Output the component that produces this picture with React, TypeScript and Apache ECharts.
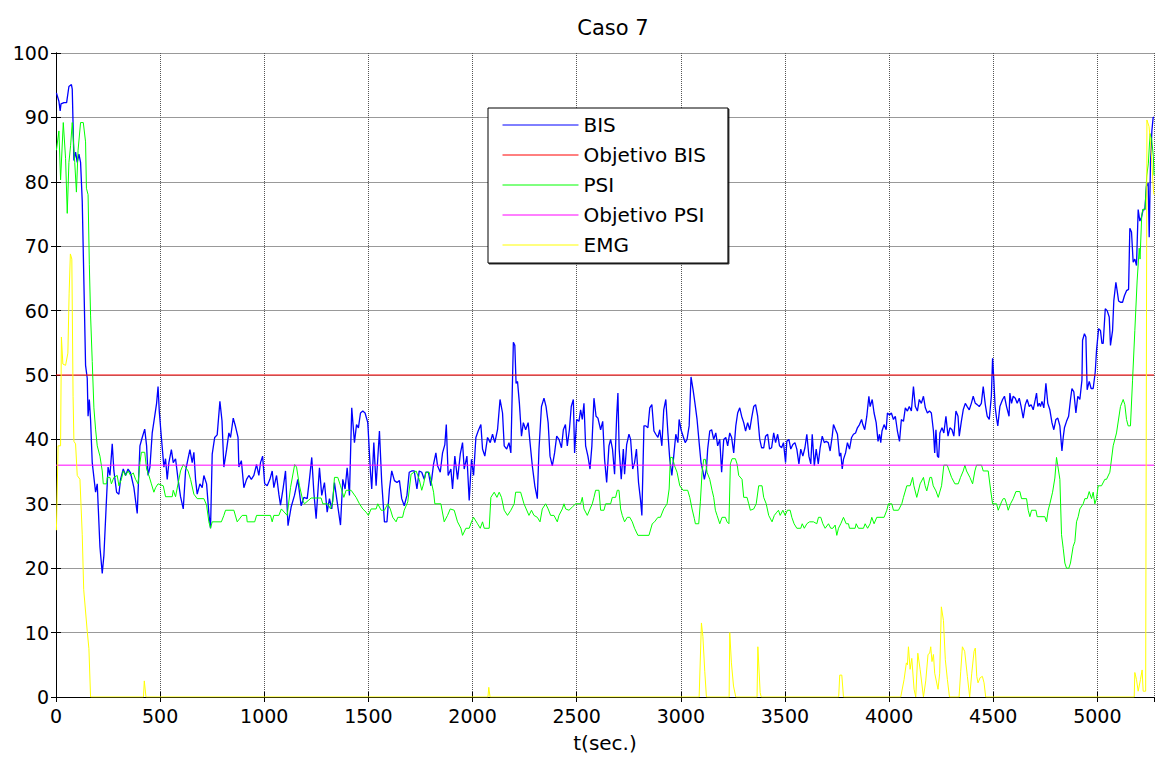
import React, { useEffect, useRef } from "react";
import * as echarts from "echarts";

const T_MAX = 5272;
const X_TICKS_INTERVAL = 500;
const Y_TICKS_INTERVAL = 10;
const TITLE = "Caso 7";
const X_NAME = "t(sec.)";
const SERIES_NAMES = ["BIS", "Objetivo BIS", "PSI", "Objetivo PSI", "EMG"];
const TARGET_BIS = 50;
const TARGET_PSI = 36;

const bisData: number[][] = [
  [2,93.8],[14,92.5],[20,91],[24,92.1],[38,92.3],[51,92.3],[62,94.8],[74,95.1],[78,94.4],[86,83.3],[94,84.6],[102,83],[110,84.3],[118,83],[126,77],[142,51.5],[150,49.5],[154,43.6],[160,46.2],[166,43],[174,36.4],[190,31.8],[198,33.1],[211,23.3],[222,19.2],[230,22],[243,31.1],[250,35.7],[259,34.4],[270,39.3],[278,35.1],[291,31.8],[302,31.5],[310,33.8],[323,35.4],[334,34.4],[346,35.4],[358,34.8],[374,32.5],[390,28.5],[403,39],[414,40.3],[426,41.6],[435,39],[442,34.4],[451,35.7],[462,41],[474,43.6],[483,45.6],[490,48.2],[496,44.3],[506,40.3],[518,35.7],[526,37],[534,33.8],[542,36.4],[554,38.4],[563,36.4],[574,37],[586,33.8],[598,31.1],[611,29.2],[622,35.1],[634,37],[643,38.4],[654,36.4],[662,38],[670,33.8],[678,31.5],[691,33.1],[702,32.5],[710,34.4],[723,33.1],[734,28.5],[742,26.2],[750,37.7],[762,40.3],[774,40.7],[787,45.9],[797,42.9],[806,35.7],[819,38.4],[830,41],[838,40.3],[851,43.3],[862,42],[874,40.3],[878,35.7],[890,36.7],[902,32.5],[915,33.8],[926,34.4],[938,33.8],[950,34.4],[963,36.1],[974,34.4],[982,36.4],[992,37.4],[1002,33.1],[1014,32.8],[1027,33.8],[1038,35.1],[1046,32.5],[1059,34.4],[1070,31.5],[1078,29.8],[1091,32.5],[1102,35.1],[1114,26.6],[1129,29.5],[1145,31.3],[1161,33.8],[1177,29.7],[1190,31],[1206,30.8],[1217,33.8],[1228,37.2],[1238,31.8],[1249,27.7],[1265,35.6],[1276,31.3],[1289,33.3],[1302,28.7],[1313,30.8],[1324,29.2],[1337,33.3],[1350,30.3],[1366,26.7],[1377,33.8],[1388,32.3],[1398,35.6],[1409,31.3],[1420,44.9],[1433,39.5],[1443,42.3],[1452,41.8],[1462,44.1],[1473,44.4],[1484,44.1],[1497,42.6],[1510,34.9],[1516,32.3],[1526,39.5],[1537,32.8],[1553,41.3],[1564,33.3],[1577,27.2],[1589,27.2],[1601,32.3],[1612,35.1],[1625,33.6],[1637,33.3],[1649,33.6],[1660,30.8],[1672,29.7],[1685,31.3],[1696,34.9],[1708,35.1],[1720,35.1],[1733,32.3],[1744,35.1],[1756,34.9],[1768,33.8],[1776,34.9],[1788,34.9],[1800,32.8],[1813,36.2],[1824,37.9],[1832,35.9],[1845,34.9],[1856,37.9],[1867,39.2],[1874,42.3],[1883,34.4],[1896,35.4],[1904,32.3],[1915,37.4],[1928,33.8],[1941,37.7],[1952,39.5],[1960,35.4],[1973,37.4],[1984,30.5],[1995,36.9],[2005,34.4],[2016,40.3],[2027,41.3],[2040,42.3],[2048,38.5],[2059,37.4],[2072,40.3],[2085,39.5],[2096,40.8],[2107,39.5],[2120,41.5],[2132,46.2],[2144,44.1],[2152,39],[2164,38.5],[2175,39.5],[2184,37.9],[2196,55.1],[2203,54.6],[2209,48.7],[2216,49],[2225,45.6],[2235,40.5],[2244,42.6],[2255,41.5],[2267,42.6],[2276,39.5],[2287,35.9],[2299,32.8],[2311,30.8],[2319,38.5],[2331,45.1],[2343,46.4],[2353,45.1],[2363,42.6],[2372,37.4],[2383,35.9],[2394,37.9],[2404,40.5],[2415,40],[2427,38.7],[2436,41.5],[2446,42.3],[2455,39],[2465,41.5],[2474,45.1],[2484,46.2],[2490,37.9],[2500,43.1],[2511,42.8],[2519,44.6],[2527,43.1],[2535,45.6],[2543,39],[2554,37.4],[2564,35.4],[2573,39],[2583,46.4],[2593,43.6],[2602,43.3],[2615,41.5],[2625,42.8],[2634,36.9],[2644,33.3],[2655,39],[2663,40],[2672,38.5],[2682,34.6],[2692,43.6],[2698,47.2],[2704,38.5],[2714,33.8],[2724,38.5],[2730,34.6],[2740,39.2],[2751,40.8],[2759,40],[2769,35.4],[2778,36.4],[2787,38.5],[2797,33.3],[2807,30.5],[2813,28.2],[2823,42.1],[2832,42.1],[2842,41.8],[2851,44.9],[2861,45.4],[2871,41.3],[2880,40.8],[2890,40.3],[2899,41.5],[2909,39],[2918,44.6],[2928,46.2],[2938,41],[2947,36.9],[2957,34.4],[2966,37.4],[2976,40.8],[2986,39.5],[2992,43.1],[3001,41.5],[3011,40.5],[3021,39.5],[3030,40],[3040,42.1],[3049,49.7],[3059,47.7],[3068,45.6],[3078,43.1],[3088,39.5],[3097,36.4],[3107,34.9],[3113,33.8],[3123,35.4],[3129,38.5],[3139,41.3],[3148,41.5],[3158,40],[3168,41],[3177,39],[3187,40],[3196,34.9],[3206,40],[3216,40.3],[3225,39],[3235,41],[3244,40.3],[3254,37.9],[3264,42.1],[3273,44.1],[3283,44.9],[3292,43.6],[3302,42.6],[3311,41.3],[3321,42.6],[3331,41.5],[3340,43.3],[3350,45.1],[3359,45.4],[3369,43.6],[3379,40],[3388,38.7],[3398,38.7],[3407,40.5],[3417,40.8],[3426,38.5],[3436,38.7],[3446,41],[3455,39.5],[3465,40.8],[3474,39],[3484,38.7],[3493,39.5],[3503,36.4],[3509,39.7],[3519,40],[3528,38.5],[3538,39.2],[3548,39.5],[3557,38.5],[3567,36.2],[3576,38.5],[3586,37.4],[3596,38.7],[3605,40.8],[3615,37.4],[3624,36.2],[3631,40.8],[3641,35.9],[3650,38.5],[3660,36.2],[3669,38.7],[3679,40.5],[3689,39.5],[3698,39.7],[3708,39.5],[3717,38.2],[3727,40.5],[3733,42.3],[3743,41.5],[3752,40.8],[3762,37.4],[3768,37.9],[3775,35.4],[3781,36.9],[3791,37.9],[3800,39.5],[3810,38.5],[3820,40.3],[3829,40.8],[3839,41],[3848,41.8],[3858,42.3],[3868,43.1],[3874,42.3],[3883,41.5],[3893,43.6],[3903,46.7],[3909,45.1],[3919,46.2],[3928,44.1],[3938,42.6],[3947,39.7],[3954,40.8],[3960,39.5],[3966,41.3],[3976,42.3],[3986,41.5],[3992,44.1],[4002,43.8],[4011,44.1],[4021,43.1],[4030,43.6],[4040,41.3],[4050,39.7],[4059,43.1],[4069,42.8],[4078,44.9],[4088,44.4],[4097,45.1],[4107,44.4],[4117,48.2],[4126,45.1],[4136,44.4],[4145,46.2],[4155,45.6],[4165,46.7],[4174,44.9],[4184,44.1],[4194,44.4],[4203,44.1],[4213,41.3],[4219,37.9],[4225,41.5],[4232,37.4],[4238,37.2],[4244,41],[4254,41.8],[4263,41],[4273,43.6],[4283,40.5],[4292,41.8],[4302,41.5],[4311,40.5],[4321,44.4],[4331,43.6],[4337,40.5],[4347,42.8],[4356,44.6],[4366,45.6],[4375,45.1],[4385,44.6],[4395,45.6],[4404,46.7],[4414,45.6],[4423,45.4],[4433,45.1],[4443,45.6],[4452,48.2],[4462,45.4],[4471,43.6],[4481,43.1],[4491,46.7],[4497,52.6],[4503,49.2],[4509,45.1],[4516,43.3],[4522,42.1],[4532,45.1],[4545,46.2],[4554,46.7],[4564,45.1],[4576,43.6],[4580,47.2],[4588,45.6],[4596,46.7],[4606,46.4],[4615,45.6],[4625,46.4],[4634,45.1],[4644,43.3],[4654,45.4],[4663,46.2],[4673,45.1],[4682,45.4],[4692,44.6],[4702,46.2],[4708,47.2],[4714,45.1],[4721,45.6],[4727,45.1],[4734,45.9],[4743,44.9],[4753,48.7],[4762,45.6],[4772,44.6],[4782,42.6],[4791,41.5],[4801,43.1],[4810,43.3],[4820,42.1],[4830,38.2],[4836,40.3],[4842,41.8],[4852,42.8],[4862,43.6],[4871,46.2],[4878,47.9],[4887,47.4],[4897,44.1],[4906,46.7],[4916,46.2],[4926,49.2],[4929,55.4],[4938,56.4],[4945,55.9],[4951,47.7],[4961,49],[4970,47.9],[4980,47.9],[4990,50.5],[4996,53.8],[5006,57.2],[5015,56.9],[5022,54.9],[5028,54.9],[5038,60.3],[5047,60],[5057,59],[5063,54.6],[5073,56.9],[5079,61.5],[5089,64.4],[5095,63.1],[5102,61.5],[5111,61.3],[5121,61.3],[5130,62.3],[5140,63.1],[5150,63.3],[5156,72.8],[5164,72.2],[5172,67.5],[5180,68],[5188,67],[5196,75.7],[5204,73.9],[5212,74.5],[5220,75.7],[5228,75.7],[5236,79.3],[5244,79.8],[5249,71.4],[5255,82.9],[5262,88],[5268,90],[5272,90]
];

const psiData: number[][] = [
  [2,84.9],[14,87.9],[22,80.3],[35,89.2],[46,83.6],[54,75.1],[62,83],[70,85.6],[78,89.2],[90,83],[98,78.4],[106,84.9],[118,89.2],[131,89.2],[142,86.2],[146,79],[154,78],[160,67.2],[166,59.3],[174,52.1],[182,44.9],[190,41.6],[198,39],[211,37.4],[222,35.1],[227,33.1],[243,33.1],[246,34.1],[259,34.1],[266,33.1],[278,34.1],[294,34.4],[302,32.8],[314,33.8],[323,35.1],[334,34.4],[346,35.1],[358,34.4],[371,34.8],[382,33.8],[394,33.1],[403,36.4],[410,38],[426,38],[435,35.4],[446,34.4],[458,33.1],[470,31.8],[478,32.5],[490,33.1],[515,32.8],[526,31.1],[558,31.1],[563,32.1],[574,31.1],[586,33.1],[598,35.1],[611,36.1],[622,35.7],[634,35.1],[646,33.8],[662,31.5],[678,30.8],[710,30.8],[723,29.8],[734,27.2],[742,26.2],[750,27.2],[794,27.2],[806,28.2],[814,29],[854,29],[870,27.2],[894,28.2],[915,28.2],[918,27.2],[954,27.2],[963,28.2],[1030,28.2],[1038,27.2],[1046,28.2],[1070,28.2],[1082,29.2],[1110,28.2],[1126,32.5],[1146,36.1],[1155,35.7],[1169,32.8],[1185,30.5],[1193,30],[1225,30.9],[1273,30.9],[1281,30],[1305,30],[1318,29.2],[1329,30.3],[1337,34.1],[1353,34.1],[1366,32.8],[1382,31],[1393,32.1],[1417,32.1],[1441,31],[1457,30],[1473,29.2],[1489,28.7],[1500,28.2],[1513,29.2],[1537,29.2],[1545,30],[1561,29],[1577,29],[1593,30],[1605,29.2],[1617,27.9],[1633,27.2],[1641,27.9],[1664,27.9],[1672,29],[1689,30.3],[1705,34.6],[1729,35.1],[1744,33.8],[1756,32.1],[1765,33.1],[1776,34.9],[1792,34.9],[1813,31.8],[1819,30],[1848,30],[1864,27.2],[1880,28.2],[1893,29.2],[1912,29],[1928,27.2],[1944,26.2],[1952,25.1],[1968,26.2],[1984,26.2],[1995,27.2],[2005,27.9],[2024,26.9],[2037,26.2],[2048,27.2],[2056,26.2],[2080,26.2],[2088,31],[2104,31.8],[2117,31],[2128,31.8],[2139,31],[2152,29],[2168,28.2],[2184,29],[2200,30],[2207,31.8],[2231,31.8],[2247,30],[2271,28.2],[2283,29],[2295,28.2],[2311,27.9],[2324,27.2],[2335,29.2],[2351,30],[2363,29.2],[2375,28.2],[2391,28.2],[2407,27.2],[2415,28.2],[2431,29.2],[2439,30],[2447,29.2],[2463,29],[2479,29.5],[2495,30],[2519,30],[2527,31],[2535,29.2],[2551,28.2],[2564,29.2],[2575,30],[2583,31],[2591,32.1],[2607,32.1],[2615,29],[2631,29],[2639,30],[2663,30],[2671,31],[2687,31],[2695,32.1],[2703,32.1],[2711,29.2],[2719,28.2],[2730,27.2],[2743,27.9],[2755,27.9],[2767,27.2],[2778,26.2],[2794,25.1],[2847,25.1],[2863,26.9],[2874,27.2],[2890,27.9],[2902,27.9],[2918,29.2],[2934,30],[2944,32.3],[2950,37.2],[2960,37.2],[2970,35.9],[2982,34.9],[2995,32.8],[3011,32.1],[3033,32.1],[3043,31],[3054,29.2],[3065,27.7],[3070,26.9],[3086,26.9],[3094,30.3],[3102,34.9],[3110,36.9],[3118,36.9],[3126,34.9],[3139,33.8],[3150,32.1],[3158,31],[3166,29],[3174,28.2],[3187,26.9],[3198,27.9],[3214,27.9],[3222,27.2],[3231,26.9],[3238,36.2],[3246,37],[3262,37],[3270,36.2],[3278,34.4],[3294,33.8],[3302,31],[3318,31],[3326,30],[3334,29],[3350,29.2],[3362,30],[3374,32.8],[3390,32.8],[3398,31],[3410,30],[3422,28.2],[3438,27.2],[3449,28.2],[3461,28.7],[3469,29],[3477,28.2],[3490,29],[3501,28.2],[3512,29],[3525,29],[3533,27.9],[3544,26.9],[3557,26.2],[3576,26.2],[3583,26.9],[3593,26.2],[3605,26.9],[3618,27.2],[3637,27.2],[3653,26.9],[3661,27.9],[3672,27.9],[3682,26.9],[3693,26.2],[3709,26.9],[3720,26.2],[3730,26.2],[3741,26.7],[3749,25.1],[3757,26.2],[3768,26.9],[3781,27.9],[3794,26.9],[3805,26.9],[3810,26.2],[3837,26.2],[3842,26.9],[3853,26.2],[3877,26.2],[3885,26.9],[3897,26.2],[3909,26.9],[3917,27.9],[3928,26.9],[3941,27.9],[3976,27.9],[3989,29],[3997,30],[4013,30],[4021,29],[4045,29],[4061,30],[4069,31],[4085,32.8],[4101,32.8],[4113,34.1],[4119,32.8],[4133,31],[4149,33.1],[4165,34.1],[4173,32.8],[4181,32],[4189,33.1],[4196,34.1],[4204,34.1],[4212,32.8],[4225,32],[4236,31],[4252,32.8],[4263,36],[4279,36],[4289,35.1],[4300,34.1],[4316,33.1],[4332,33.1],[4343,34.1],[4356,35.1],[4364,36],[4372,35.1],[4388,34.1],[4401,33.1],[4412,35.1],[4420,36],[4444,36],[4452,35.1],[4476,35.1],[4487,32.3],[4497,30],[4516,30],[4524,29],[4540,30.3],[4548,30.8],[4556,30.8],[4564,30],[4572,29],[4583,30],[4596,30.8],[4609,31.9],[4628,31.9],[4636,30.8],[4660,30.8],[4668,29],[4676,28],[4684,29],[4705,29],[4711,28],[4748,28],[4756,27.2],[4764,29],[4772,30],[4785,31.8],[4796,34],[4804,37.2],[4820,33.8],[4828,25.2],[4836,23.1],[4844,20.8],[4852,20],[4863,20],[4871,20.8],[4884,23.4],[4892,24.1],[4900,27.2],[4908,28],[4916,29.2],[4932,30],[4940,30.8],[4951,30.8],[4961,31.9],[4972,30.8],[4980,31.8],[4988,30],[4996,30.8],[5004,32.8],[5020,32.8],[5036,33.8],[5044,33.8],[5060,34.9],[5076,39],[5092,41],[5111,45.1],[5124,46.2],[5132,45.4],[5140,43.1],[5148,42.1],[5159,42.1],[5169,49.2],[5180,56.9],[5191,64.6],[5201,69.7],[5205,68],[5213,74.7],[5218,75.7],[5229,75.7],[5237,80.9],[5245,82.9],[5253,87.5],[5261,86.5],[5269,83.9],[5272,81]
];

const emgData: number[][] = [
  [2,25.9],[10,39],[22,39],[26,55.9],[33,51.7],[46,51.5],[57,53.4],[63,62.6],[69,68.8],[76,68],[82,46.7],[86,39.7],[94,39.3],[102,34.4],[115,33.8],[126,25.2],[133,16.7],[150,10.2],[158,7.5],[166,0],[420,0],[424,2.5],[432,0],[2074,0],[2078,1.5],[2084,0],[3088,0],[3099,11.5],[3106,9.4],[3115,4],[3123,0],[3232,0],[3235,10],[3243,5.3],[3253,1.7],[3264,0],[3366,0],[3370,7.8],[3381,0.7],[3386,0],[3758,0],[3763,3.4],[3773,3.4],[3781,0],[4056,0],[4072,2.7],[4083,5.3],[4088,5],[4093,7.8],[4101,4.3],[4109,6],[4120,1.2],[4128,0],[4138,6.8],[4149,4.3],[4165,0],[4176,2.5],[4187,6.6],[4195,6.8],[4200,7.8],[4206,5.5],[4213,6.6],[4219,3.7],[4235,1.2],[4243,3.7],[4251,14],[4261,11.9],[4270,5.8],[4280,2.7],[4290,0],[4336,0],[4344,4],[4352,7.8],[4363,7.1],[4376,3.2],[4387,0],[4397,3.7],[4408,7.1],[4414,7.6],[4421,3.2],[4427,2.2],[4437,3],[4448,3.2],[4456,2.2],[4464,0],[5177,0],[5180,3.8],[5188,2.7],[5196,0.9],[5207,2.7],[5215,4.2],[5220,0.9],[5232,0.9],[5238,89.6],[5248,88.6],[5253,87],[5261,83.4],[5269,78.8],[5272,78]
];

const targetBisData: number[][] = [[0, TARGET_BIS], [T_MAX, TARGET_BIS]];
const targetPsiData: number[][] = [[0, TARGET_PSI], [T_MAX, TARGET_PSI]];

const COLORS = ["#0000ff", "#ff0000", "#00ff00", "#ff00ff", "#ffff00"];
const FONT = "DejaVu Sans";

export default function App() {
  const ref = useRef<HTMLDivElement>(null);
  useEffect(() => {
    if (!ref.current) return;
    const chart = echarts.init(ref.current, undefined, { renderer: "svg" });
    const datasets = [bisData, targetBisData, psiData, targetPsiData, emgData];
    const series = SERIES_NAMES.map((name, i) => ({
      name,
      type: "line",
      data: datasets[i],
      symbol: "none",
      showSymbol: false,
      xAxisIndex: 0,
      yAxisIndex: 0,
      lineStyle: { color: COLORS[i], width: i === 0 ? 1.3 : 1 },
      itemStyle: { color: COLORS[i] },
      silent: true,
    }));
    chart.setOption({
      animation: false,
      backgroundColor: "#ffffff",
      title: {
        text: TITLE,
        left: 608,
        textAlign: "center",
        top: 12,
        textStyle: { fontFamily: FONT, fontSize: 21, fontWeight: "normal", color: "#000" },
      },
      legend: {
        orient: "vertical",
        left: 488,
        top: 108,
        padding: [7, 22, 8, 14],
        itemWidth: 76,
        itemHeight: 14,
        itemGap: 10,
        selectedMode: false,
        backgroundColor: "#ffffff",
        borderColor: "#000",
        borderWidth: 1,
        shadowColor: "rgba(0,0,0,0.8)",
        shadowOffsetX: 1,
        shadowOffsetY: 1,
        shadowBlur: 0,
        itemStyle: { opacity: 0 },
        lineStyle: { width: 1 },
        textStyle: { fontFamily: FONT, fontSize: 20, color: "#000" },
        data: SERIES_NAMES,
      },
      grid: { left: 56, top: 53, width: 1098, height: 651, containLabel: false },
      xAxis: [
        {
          type: "value",
          min: 0,
          max: T_MAX,
          interval: X_TICKS_INTERVAL,
          name: X_NAME,
          nameLocation: "middle",
          nameGap: 36,
          nameTextStyle: { fontFamily: FONT, fontSize: 20, color: "#000" },
          axisLine: { show: true, lineStyle: { color: "#000", width: 1 } },
          axisTick: { show: true, inside: true, length: 5, lineStyle: { color: "#000" } },
          axisLabel: {
            fontFamily: FONT,
            fontSize: 19,
            color: "#000",
            margin: 9,
            showMaxLabel: false,
            formatter: (v: number) => String(v),
          },
          splitLine: { show: true, lineStyle: { color: "#555", type: "dotted", width: 1 } },
        },
        {
          type: "value",
          position: "top",
          min: 0,
          max: T_MAX,
          interval: X_TICKS_INTERVAL,
          axisLine: { show: true, lineStyle: { color: "#000", width: 1 } },
          axisTick: { show: true, inside: true, length: 5, lineStyle: { color: "#000" } },
          axisLabel: { show: false },
          splitLine: { show: false },
        },
      ],
      yAxis: [
        {
          type: "value",
          min: 0,
          max: 100,
          interval: Y_TICKS_INTERVAL,
          axisLine: { show: true, lineStyle: { color: "#000", width: 1 } },
          axisTick: { show: true, inside: true, length: 5, lineStyle: { color: "#000" } },
          axisLabel: { fontFamily: FONT, fontSize: 19, color: "#000", margin: 7 },
          splitLine: { show: true, lineStyle: { color: "#999", type: "solid", width: 1 } },
        },
        {
          type: "value",
          position: "right",
          min: 0,
          max: 100,
          interval: Y_TICKS_INTERVAL,
          axisLine: { show: true, lineStyle: { color: "#000", width: 1 } },
          axisTick: { show: true, inside: true, length: 5, lineStyle: { color: "#000" } },
          axisLabel: { show: false },
          splitLine: { show: false },
        },
      ],
      series,
    });
    return () => chart.dispose();
  }, []);
  return (
    <div
      ref={ref}
      style={{ position: "fixed", left: 0, top: 0, width: 1155, height: 758, background: "#fff" }}
    />
  );
}
